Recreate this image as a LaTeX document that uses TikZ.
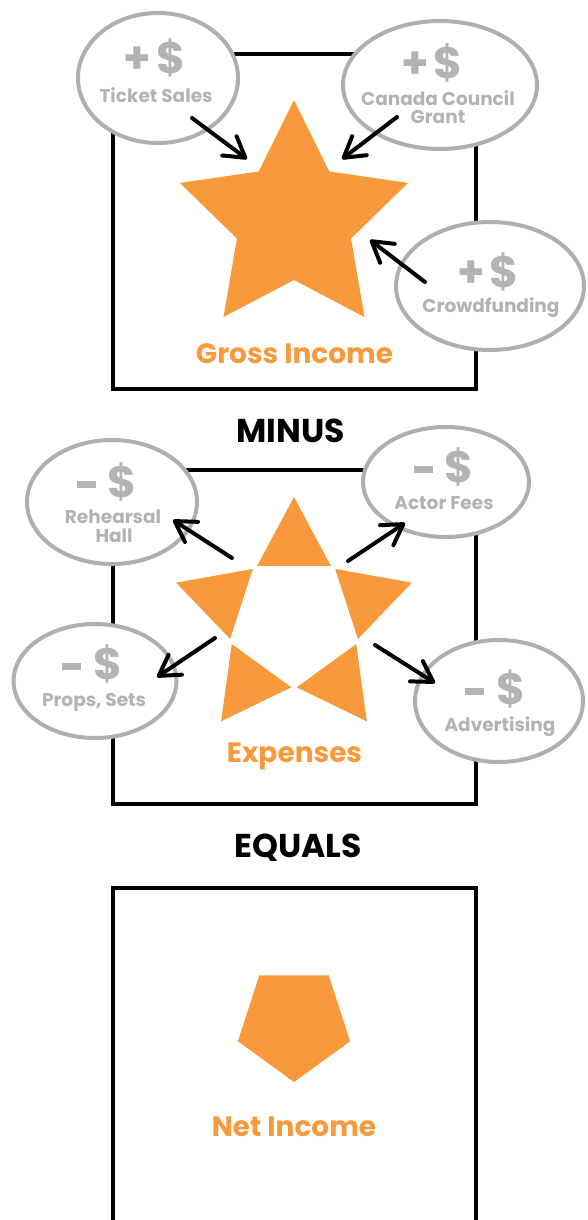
\documentclass[tikz,border=0pt]{standalone}
\usepackage{fontspec}
\setmainfont{Poppins}
\usetikzlibrary{arrows.meta,shapes.geometric,calc}

\definecolor{accent}{HTML}{F89A3B}
\definecolor{ring}{HTML}{AFAFB2}
\definecolor{ink}{HTML}{B3B3B5}

\newcommand{\plusdollar}{+\kern5pt\$}
\newcommand{\minusdollar}{\rule[9pt]{19pt}{7pt}\kern12pt\$}

\begin{document}
\begin{tikzpicture}[
		  x=1pt, y=-1pt, >={Straight Barb[length=20pt,width=24pt,round]},
		  frame/.style={draw, line width=4pt},
		  fund/.style={draw=ring, fill=white, ellipse, line width=4pt, inner sep=0pt},
		  sign/.style={anchor=base, text=ink, inner sep=0pt, font=\fontsize{44}{44}\selectfont\bfseries},
		  tag/.style={anchor=base, text=ink, inner sep=0pt, font=\fontsize{18.5}{18}\selectfont\bfseries},
		  title/.style={anchor=base, text=accent, inner sep=0pt, font=\fontsize{28}{30}\selectfont\bfseries},
		  word/.style={anchor=base, inner sep=0pt, font=\fontsize{33}{34}\selectfont\bfseries},
		  arr/.style={->, line width=4pt, line cap=round}
		]
		\useasboundingbox (0,0) rectangle (587,1220);
		
		% frames
		\draw[frame] (113,54) rectangle (476,389);
		\draw[frame] (113,470) rectangle (476,804);
		\draw[frame] (113,1225) -- (113,888) -- (476,888) -- (476,1225);
		
		% shapes
		\coordinate (gross) at (294,220);
		\fill[accent] ($(gross)+(-90:120)$) \foreach \k in {0,...,4} { -- ($(gross)+(-54+72*\k:60)$) -- ($(gross)+(-18+72*\k:120)$) } -- cycle;
		
		\coordinate (costs) at (294,621);
		\foreach \k in {0,...,4} {
		  \coordinate (tip) at ($(costs)+(-90+72*\k:124)$);
		  \coordinate (lo) at ($(costs)+(-126+72*\k:65)$);
		  \coordinate (hi) at ($(costs)+(-54+72*\k:65)$);
		  \fill[accent] (tip) -- ($(lo)!3pt!(tip)$) -- ($(hi)!3pt!(tip)$) -- cycle;
		}
		
		\coordinate (net) at (294,1023);
		\fill[accent] ($(net)+(90:59)$) \foreach \k in {1,...,4} { -- ($(net)+(90+72*\k:59)$) } -- cycle;
		
		\node[title] (grosslbl) at (294.5,363) {Gross Income};
		\node[word]  (minus)    at (290.5,442) {MINUS};
		\node[title] (costlbl)  at (294.5,762) {Expenses};
		\node[word]  (equals)   at (298,857)   {EQUALS};
		\node[title] (netlbl)   at (294,1136)  {Net Income};
		
		% income sources
		\node[fund, minimum width=160pt, minimum height=130pt] (tix)   at (158,78)  {};
		\node[fund, minimum width=194pt, minimum height=128pt] (grant) at (440,85)  {};
		\node[fund, minimum width=188pt, minimum height=128pt] (crowd) at (490,286) {};
		\node[sign] (tixsign)   at (154.5,74) {\plusdollar};
		\node[sign] (grantsign) at (432,79)   {\plusdollar};
		\node[sign] (crowdsign) at (488,287)  {\plusdollar};
		\node[tag] (tixlbl)    at (156,103) {Ticket Sales};
		\node[tag] (grantlbl)  at (438,106) {Canada Council};
		\node[tag] (grantlbl2) at (438,124) {Grant};
		\node[tag] (crowdlbl)  at (491,312) {Crowdfunding};
		
		% expense items
		\node[fund, minimum width=170pt, minimum height=124pt] (hall)   at (112,502) {};
		\node[fund, minimum width=163pt, minimum height=114pt] (props)  at (95,681)  {};
		\node[fund, minimum width=166pt, minimum height=110pt] (actors) at (446,482) {};
		\node[fund, minimum width=168pt, minimum height=122pt] (adv)    at (499,701) {};
		\node[sign] (hallsign)   at (106.5,497) {\minusdollar};
		\node[sign] (propssign)  at (92,679)    {\minusdollar};
		\node[sign] (actorssign) at (443.5,482) {\minusdollar};
		\node[sign] (advsign)    at (495,704)   {\minusdollar};
		\node[tag] (halllbl)   at (113,523) {Rehearsal};
		\node[tag] (halllbl2)  at (114,542) {Hall};
		\node[tag] (propslbl)  at (94,706)  {Props, Sets};
		\node[tag] (actorslbl) at (444,509) {Actor Fees};
		\node[tag] (advlbl)    at (500,731) {Advertising};
		
		% arrows
		\coordinate (tixout) at (192,118);   \coordinate (tixin) at (247,159);
		\coordinate (grantout) at (397,117); \coordinate (grantin) at (342,159);
		\coordinate (crowdout) at (425,282); \coordinate (crowdin) at (370,240);
		\coordinate (hallfrom) at (232,558);   \coordinate (hallto) at (173,520);
		\coordinate (propsfrom) at (215,638);  \coordinate (propsto) at (157,677);
		\coordinate (actorsfrom) at (348,561); \coordinate (actorsto) at (405,523);
		\coordinate (advfrom) at (375,645);    \coordinate (advto) at (435,683);
		
		\draw[arr] (tixout) -- (tixin);
		\draw[arr] (grantout) -- (grantin);
		\draw[arr] (crowdout) -- (crowdin);
		\draw[arr] (hallfrom) -- (hallto);
		\draw[arr] (propsfrom) -- (propsto);
		\draw[arr] (actorsfrom) -- (actorsto);
		\draw[arr] (advfrom) -- (advto);
		\end{tikzpicture}
\end{document}
